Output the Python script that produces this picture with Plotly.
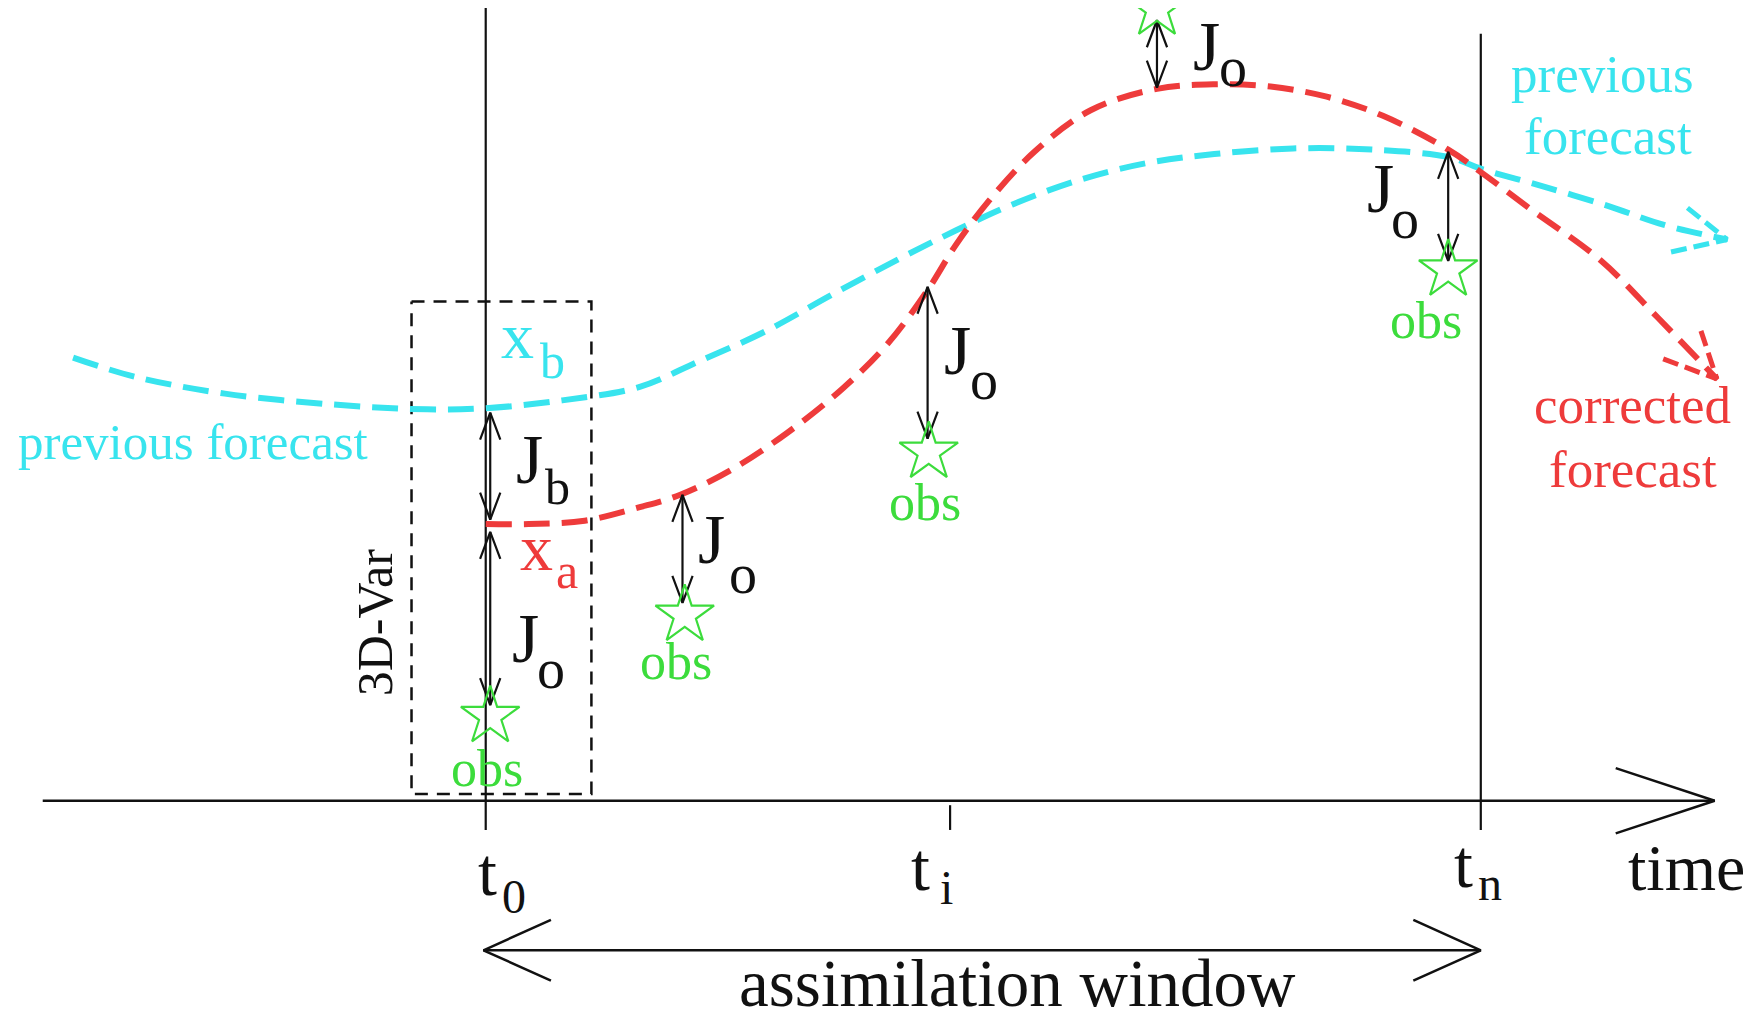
import plotly.graph_objects as go

# ---------------- data (diagram units: 1568 x 907 canvas) ----------------
prev_x = [65, 120, 200, 300, 380, 432, 500, 569, 620, 680, 740, 800, 850, 900, 960, 1020, 1080, 1150, 1220, 1290, 1317, 1370, 1430, 1480, 1536]
prev_y = [318, 335, 350, 360, 364, 363, 356, 344, 322, 295, 262, 230, 205, 182, 160, 145, 137, 132, 133, 140, 150, 165, 183, 200, 213]

corr_x = [432, 470, 520, 569, 605, 650, 700, 750, 790, 825, 850, 880, 920, 970, 1029, 1080, 1130, 1180, 1230, 1288, 1317, 1360, 1423, 1475, 1527]
corr_y = [466, 466, 463, 451, 440, 418, 385, 345, 305, 258, 218, 178, 135, 98, 79, 75, 77, 86, 103, 133, 153, 185, 231, 283, 337]

obs_x = [436, 609, 826, 1029, 1288]
obs_y = [637, 547, 402, 8, 240]
obs_label_x = [433, 601, 823, 1268]
obs_label_y = [683, 588, 447, 285]

# double arrows (Jb and Jo): x, y_top, y_bottom
darrow_x = [436, 436, 607, 825, 1029, 1288]
darrow_top = [367, 473, 440, 255, 18, 135]
darrow_bot = [462, 627, 536, 390, 78, 232]

# J labels: main letter position, subscript, subscript position
j_x = [471, 467, 633, 852, 1073, 1228]
j_y = [409, 568, 480, 312, 41, 168]
j_sub = ["b", "o", "o", "o", "o", "o"]
j_sub_x = [496, 490, 661, 875, 1097, 1250]
j_sub_y = [433, 595, 510, 338, 60, 195]

# time axis
axis_y = 712
axis_x0, axis_x1 = 38, 1525
tick_x = [432, 845, 1317]
tick_names = ["t", "t", "t"]
tick_subs = ["0", "i", "n"]
vline_top = [5, None, 30]
tick_bottom = 738

window_y = 845
window_x0, window_x1 = 430, 1317

box_x = [366, 526]
box_y = [268, 706]

CYAN = "#38e4ee"
RED = "#ee3b3b"
GREEN = "#3cdc3c"
BLACK = "#111111"
FONT = "Liberation Serif"

fig = go.Figure()


def chevron(tip_x, tip_y, dx, dy, length, half):
    n = (dx * dx + dy * dy) ** 0.5
    ux, uy = dx / n, dy / n
    px, py = -uy, ux
    bx, by = tip_x - ux * length, tip_y - uy * length
    return ([bx + px * half, tip_x, bx - px * half, None],
            [by + py * half, tip_y, by - py * half, None])


def add_line(xs, ys, color, width, dash="solid", shape="linear"):
    fig.add_trace(go.Scatter(x=xs, y=ys, mode="lines", hoverinfo="skip",
                             line=dict(color=color, width=width, dash=dash, shape=shape),
                             showlegend=False))


def add_text(x, y, text, size, color, angle=0, xanchor="center", yanchor="middle"):
    fig.add_annotation(x=x, y=y, text=text, showarrow=False, textangle=angle,
                       xanchor=xanchor, yanchor=yanchor,
                       font=dict(family=FONT, size=size, color=color))


# 3D-Var dashed box
add_line([box_x[0], box_x[1], box_x[1], box_x[0], box_x[0]],
         [box_y[0], box_y[0], box_y[1], box_y[1], box_y[0]], BLACK, 2.5, dash="13px,9px")

# vertical lines t0, tn and tick ti
for tx, top in zip(tick_x, vline_top):
    add_line([tx, tx], [top if top is not None else axis_y + 4, tick_bottom], BLACK, 2.2)

# time axis with open arrowhead
add_line([axis_x0, axis_x1], [axis_y, axis_y], BLACK, 2.5)
cx, cy = chevron(axis_x1, axis_y, 1, 0, 88, 29)
add_line(cx, cy, BLACK, 2.5)

# assimilation window double arrow
add_line([window_x0, window_x1], [window_y, window_y], BLACK, 2.5)
cx1, cy1 = chevron(window_x0, window_y, -1, 0, 60, 27)
cx2, cy2 = chevron(window_x1, window_y, 1, 0, 60, 27)
add_line(cx1 + cx2, cy1 + cy2, BLACK, 2.5)

# forecasts
add_line(prev_x, prev_y, CYAN, 6, dash="26px,12px", shape="spline")
add_line(corr_x, corr_y, RED, 6, dash="26px,12px", shape="spline")
# curve arrowheads
hx, hy = chevron(prev_x[-1], prev_y[-1], prev_x[-1] - prev_x[-2], prev_y[-1] - prev_y[-2], 46, 22)
add_line(hx, hy, CYAN, 5, dash="16px,7px")
hx, hy = chevron(corr_x[-1], corr_y[-1], corr_x[-1] - corr_x[-2], corr_y[-1] - corr_y[-2], 46, 22)
add_line(hx, hy, RED, 5, dash="16px,7px")

# double arrows
ax, ay = [], []
for x, t, b in zip(darrow_x, darrow_top, darrow_bot):
    ax += [x, x, None]
    ay += [t, b, None]
    c1 = chevron(x, t, 0, -1, 24, 9)
    c2 = chevron(x, b, 0, 1, 24, 9)
    ax += c1[0] + c2[0]
    ay += c1[1] + c2[1]
add_line(ax, ay, BLACK, 2.2)

# observations
fig.add_trace(go.Scatter(x=obs_x, y=obs_y, mode="markers", hoverinfo="skip", showlegend=False,
                         cliponaxis=False,
                         marker=dict(symbol="star-open", size=44, color=GREEN,
                                     line=dict(color=GREEN, width=2.2))))
for x, y in zip(obs_label_x, obs_label_y):
    add_text(x, y, "obs", 52, GREEN)

# J labels
for x, y, s, sx, sy in zip(j_x, j_y, j_sub, j_sub_x, j_sub_y):
    add_text(x, y, "J", 70, BLACK)
    add_text(sx, sy, s, 56 if s == "o" else 50, BLACK)

# state labels
add_text(460, 298, "x", 66, CYAN)
add_text(491, 321, "b", 50, CYAN)
add_text(477, 487, "x", 66, RED)
add_text(504, 508, "a", 50, RED)

# curve names
add_text(172, 393, "previous forecast", 51, CYAN)
add_text(1425, 66, "previous", 53, CYAN)
add_text(1430, 121, "forecast", 53, CYAN)
add_text(1452, 360, "corrected", 53, RED)
add_text(1452, 417, "forecast", 53, RED)

# 3D-Var
add_text(333, 553, "3D-Var", 50, BLACK, angle=-90)

# time labels
tl_offsets = [(0, 0), (-28, -4), (-17, -7)]
for tx, name, sub, (ox, oy) in zip(tick_x, tick_names, tick_subs, tl_offsets):
    add_text(tx + ox + 2, 775 + oy, name, 68, BLACK)
    add_text(tx + ox + 25, 797 + oy - (4 if sub != "0" else 0), sub, 48, BLACK)
add_text(1500, 771, "time", 66, BLACK)
add_text(905, 874, "assimilation window", 67, BLACK)

# page body has an 8px margin: size the figure and its ranges so that
# diagram units map onto the full 1763x1020 window.
fig.update_layout(
    width=1755, height=1012,
    margin=dict(l=0, r=0, t=0, b=0),
    paper_bgcolor="white", plot_bgcolor="white",
    xaxis=dict(range=[7.115, 1568], visible=False, fixedrange=True),
    yaxis=dict(range=[907, 7.11], visible=False, fixedrange=True),
    showlegend=False,
)

fig.write_html("out.html")
